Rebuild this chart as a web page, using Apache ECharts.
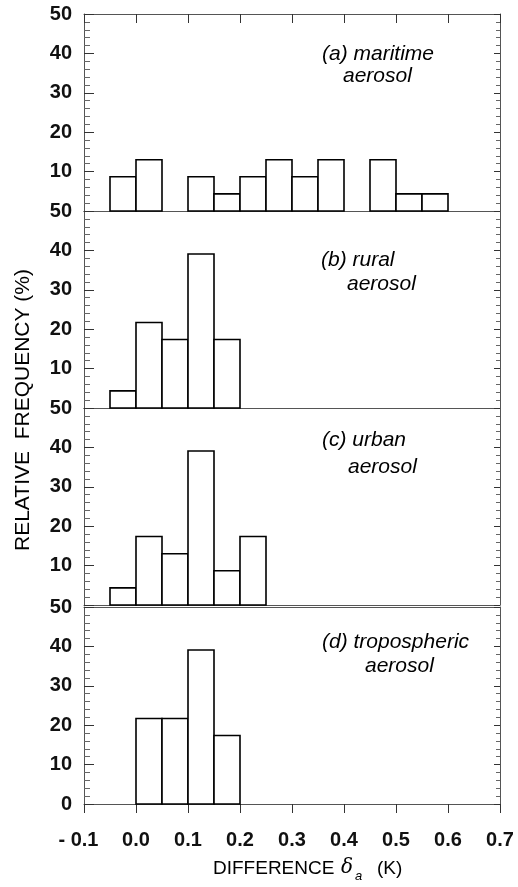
<!DOCTYPE html>
<html>
<head>
<meta charset="utf-8">
<script src="https://cdn.jsdelivr.net/npm/echarts@6/dist/echarts.min.js"></script>
<style>
html,body{margin:0;padding:0;background:#fff;}
#chart{width:518px;height:887px;}
</style>
</head>
<body>
<div id="chart"></div>
<script>
// ---- data ----
const binStart = [-0.05, 0.00, 0.05, 0.10, 0.15, 0.20, 0.25, 0.30, 0.35, 0.40, 0.45, 0.50, 0.55];
const binWidth = 0.05;
const maritime = [8.7, 13.0, 0, 8.7, 4.35, 8.7, 13.0, 8.7, 13.0, 0, 13.0, 4.35, 4.35];
const rural    = [4.35, 21.7, 17.4, 39.1, 17.4, 0, 0, 0, 0, 0, 0, 0, 0];
const urban    = [4.35, 17.4, 13.0, 39.1, 8.7, 17.4, 0, 0, 0, 0, 0, 0, 0];
const tropo    = [0, 21.7, 21.7, 39.1, 17.4, 0, 0, 0, 0, 0, 0, 0, 0];
const panelSeries = [maritime, rural, urban, tropo];
const panelLine1 = ['(a) maritime', '(b) rural', '(c) urban', '(d) tropospheric'];
const panelLine2 = ['aerosol', 'aerosol', 'aerosol', 'aerosol'];
const xTicks = [-0.1, 0.0, 0.1, 0.2, 0.3, 0.4, 0.5, 0.6, 0.7];
const yTicks = [0, 10, 20, 30, 40, 50];

// ---- layout ----
const FONT = "'Liberation Sans', Arial, sans-serif";
const gridTops = [14, 211, 408, 607];
const gridH = [197, 197, 197, 197];
const gridLeft = 84, gridRight = 18;
const frameColor = '#555';
const tickColor = '#333';

const grids = [], xAxes = [], yAxes = [], series = [];
for (let i = 0; i < 4; i++) {
  const last = i === 3;
  grids.push({left: gridLeft, right: gridRight, top: gridTops[i], height: gridH[i], containLabel: false});
  xAxes.push({
    type: 'value', gridIndex: i, position: 'bottom',
    min: xTicks[0], max: xTicks[xTicks.length - 1], interval: 0.1,
    axisLine: {show: true, onZero: false, lineStyle: {color: frameColor, width: 1}},
    axisTick: {show: last, inside: false, length: 9, lineStyle: {color: tickColor, width: 1}},
    axisLabel: {
      show: last, margin: 26, fontSize: 20, fontWeight: 'bold', color: '#111', fontFamily: FONT,
      formatter: v => v < 0 ? '- ' + Math.abs(v).toFixed(1) + '  ' : v.toFixed(1)
    },
    splitLine: {show: false}
  });
  xAxes.push({
    type: 'value', gridIndex: i, position: 'top',
    min: xTicks[0], max: xTicks[xTicks.length - 1], interval: 0.1,
    axisLine: {show: true, onZero: false, lineStyle: {color: frameColor, width: 1}},
    axisTick: {show: i === 0, inside: true, length: 9, lineStyle: {color: tickColor, width: 1}},
    axisLabel: {show: false},
    splitLine: {show: false}
  });
  yAxes.push({
    type: 'value', gridIndex: i, position: 'left',
    min: 0, max: 50, interval: 10,
    axisLine: {show: true, onZero: false, lineStyle: {color: frameColor, width: 1}},
    axisTick: {show: true, inside: true, length: 10, lineStyle: {color: tickColor, width: 1}},
    minorTick: {show: true, splitNumber: 5, length: 6, lineStyle: {color: '#666', width: 1}},
    axisLabel: {
      margin: 12, fontSize: 20, fontWeight: 'bold', color: '#111', fontFamily: FONT,
      formatter: v => (v === 0 && !last) ? '' : String(v)
    },
    splitLine: {show: false}
  });
  yAxes.push({
    type: 'value', gridIndex: i, position: 'right',
    min: 0, max: 50, interval: 10,
    axisLine: {show: true, onZero: false, lineStyle: {color: frameColor, width: 1}},
    axisTick: {show: true, inside: true, length: 6, lineStyle: {color: tickColor, width: 1}},
    minorTick: {show: true, splitNumber: 5, length: 4, lineStyle: {color: '#666', width: 1}},
    axisLabel: {show: false},
    splitLine: {show: false}
  });
  const data = [];
  panelSeries[i].forEach((v, k) => { if (v > 0) data.push([binStart[k], binStart[k] + binWidth, v]); });
  series.push({
    type: 'custom', xAxisIndex: i * 2, yAxisIndex: i * 2, data: data,
    renderItem: function (params, api) {
      const p0 = api.coord([api.value(0), api.value(2)]);
      const p1 = api.coord([api.value(1), 0]);
      return {
        type: 'rect',
        shape: {x: p0[0], y: p0[1], width: p1[0] - p0[0], height: p1[1] - p0[1]},
        style: {fill: '#fff', stroke: '#000', lineWidth: 1.6}
      };
    }
  });
}

// annotation positions (text layout only)
const annPos = [
  [[322, 54], [343, 76]],
  [[321, 260], [347, 284]],
  [[322, 440], [348, 467]],
  [[322, 642], [365, 666]]
];
const graphic = [];
for (let i = 0; i < 4; i++) {
  graphic.push({type: 'text', x: annPos[i][0][0], y: annPos[i][0][1], z: 10,
    style: {text: panelLine1[i], font: 'italic 21px ' + FONT, fill: '#000', verticalAlign: 'middle'}});
  graphic.push({type: 'text', x: annPos[i][1][0], y: annPos[i][1][1], z: 10,
    style: {text: panelLine2[i], font: 'italic 21px ' + FONT, fill: '#000', verticalAlign: 'middle'}});
}
graphic.push({type: 'text', x: 23, y: 410, rotation: Math.PI / 2, z: 10,
  style: {text: 'RELATIVE  FREQUENCY (%)', font: '21px ' + FONT, fill: '#000', align: 'center', verticalAlign: 'middle'}});
graphic.push({type: 'text', x: 213, y: 869, z: 10,
  style: {text: 'DIFFERENCE', font: '19px ' + FONT, fill: '#000', align: 'left', verticalAlign: 'middle'}});
graphic.push({type: 'text', x: 341, y: 868, z: 10,
  style: {text: 'δ', font: 'italic 20px "DejaVu Serif", serif', fill: '#000', align: 'left', verticalAlign: 'middle'}});
graphic.push({type: 'text', x: 355, y: 876, z: 10,
  style: {text: 'a', font: 'italic 13px ' + FONT, fill: '#000', align: 'left', verticalAlign: 'middle'}});
graphic.push({type: 'text', x: 377, y: 869, z: 10,
  style: {text: '(K)', font: '19px ' + FONT, fill: '#000', align: 'left', verticalAlign: 'middle'}});

const chart = echarts.init(document.getElementById('chart'), null, {renderer: 'canvas'});
chart.setOption({
  animation: false,
  backgroundColor: '#fff',
  grid: grids, xAxis: xAxes, yAxis: yAxes, series: series, graphic: graphic
});
</script>
</body>
</html>
